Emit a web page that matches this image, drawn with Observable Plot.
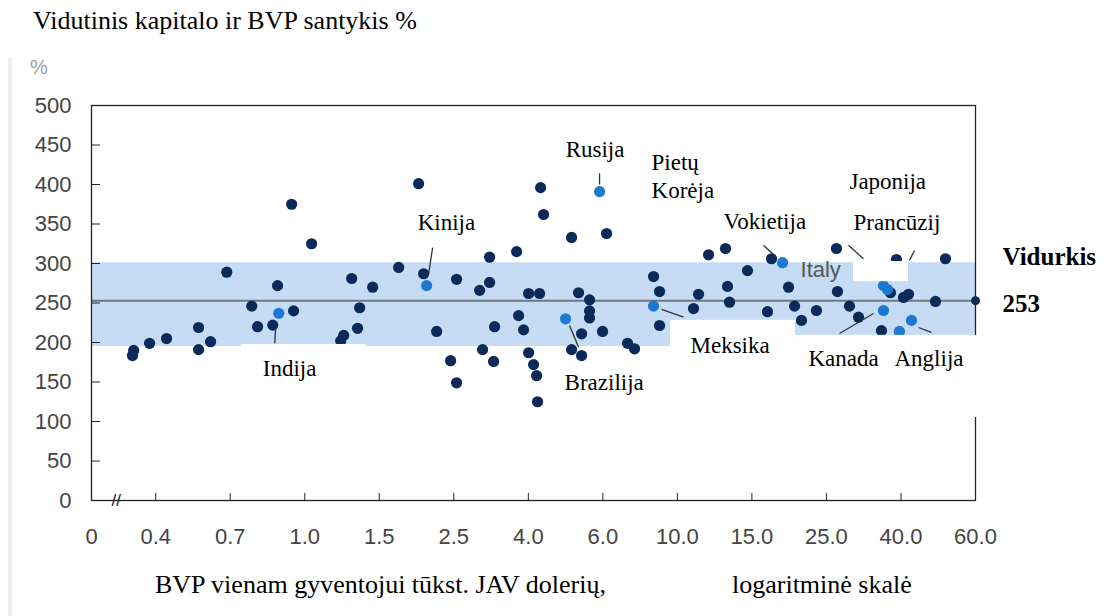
<!DOCTYPE html>
<html><head><meta charset="utf-8">
<script src="https://cdn.jsdelivr.net/npm/d3@7"></script>
<script src="https://cdn.jsdelivr.net/npm/@observablehq/plot@0.6"></script>
<style>
body{margin:0;background:#fff;width:1107px;height:616px;overflow:hidden;position:relative;font-family:"Liberation Serif","Times New Roman",serif}
#title{position:absolute;left:33px;top:8px;font-size:26px;line-height:26px;white-space:nowrap;color:#000}
#pct{position:absolute;left:30px;top:57px;font-family:"Liberation Sans",Arial,sans-serif;font-size:20px;line-height:20px;color:#9a9a9a}
#stripe{position:absolute;left:8px;top:58px;width:4px;height:558px;background:#efefef}
#chart{position:absolute;left:0;top:45px}
.cap{position:absolute;top:572px;font-size:26px;line-height:26px;white-space:nowrap;color:#000}
</style></head><body>
<div id="stripe"></div>
<div id="title">Vidutinis kapitalo ir BVP santykis %</div>
<div id="pct">%</div>
<div id="chart"></div>
<div class="cap" style="left:155px">BVP vienam gyventojui tūkst. JAV dolerių,</div>
<div class="cap" style="left:732px">logaritminė skalė</div>
<script>
// ---- axis definitions ----
const tickValues = [0.4, 0.7, 1, 1.5, 2.5, 4, 6, 10, 15, 25, 40, 60];
const tickLabels = ["0.4", "0.7", "1.0", "1.5", "2.5", "4.0", "6.0", "10.0", "15.0", "25.0", "40.0", "60.0"];
const axisStart = 0.247;          // GDP at the broken axis origin, labelled "0"
const axisStartLabel = "0";
const yTicks = [0, 50, 100, 150, 200, 250, 300, 350, 400, 450, 500];

// ---- series: other countries (GDP per capita, thousand USD; capital/GDP %) ----
const otherGdp = [0.336, 0.339, 0.382, 0.434, 0.552, 0.552, 0.604, 0.682, 0.776, 0.798, 0.858, 0.878, 0.948, 0.939,
  1.038, 1.216, 1.236, 1.291, 1.333, 1.348, 1.447, 1.713, 1.964, 2.033, 2.222, 2.446, 2.544, 2.544, 2.942, 3.133,
  2.998, 3.133, 3.233, 3.213, 3.715, 3.762, 3.882, 4.006, 4.006, 4.116, 4.184, 4.206, 4.252, 4.276, 4.346,
  5.061, 5.061, 5.257, 5.344, 5.344, 5.581, 5.581, 5.581, 5.99, 6.154, 7.106, 7.456, 8.492, 8.849, 8.849,
  10.918, 11.22, 11.847, 12.994, 13.136, 13.279, 14.646, 16.69, 17.16, 19.28, 20.09, 21.07, 23.35,
  26.63, 26.8, 28.91, 30.6, 35.37, 37.44, 38.88, 40.55, 41.67, 48.26, 50.96];
const otherRatio = [183.5, 190, 199, 205, 219, 191, 201, 289, 246, 220, 222, 272, 240, 375,
  325, 202, 209, 281, 218, 244, 270, 295, 401, 287, 214, 177, 280, 149, 266, 276,
  191, 308, 220, 176, 315, 234, 216, 262, 187, 172, 158, 125, 262, 396, 362,
  333, 191, 263, 211, 183.5, 254, 240, 231, 214, 338, 199, 192, 283.5, 264.5, 221.5,
  243, 261, 311, 319, 271, 251, 291, 239, 306, 270, 246, 228, 240.5,
  319, 264.5, 246, 232, 215, 263, 305, 257, 261, 252, 306];

// ---- series: highlighted countries ----
const hlGdp = [0.883, 2.075, 4.898, 5.893, 8.492, 18.5, 35.82, 36.74, 35.82, 39.62, 42.35];
const hlRatio = [237, 272, 230, 391, 246, 301, 272, 267, 240.5, 214, 228];

// ---- average band ----
const bandLow = 195, bandHigh = 301, average = 253;

// ---- annotations ----
const labelNames = ["Rusija", "Kinija", "Pietų", "Korėja", "Vokietija", "Japonija", "Prancūzij", "Meksika", "Kanada", "Anglija", "Indija", "Brazilija"];
const labelGdp   = [4.9, 1.951, 8.377, 8.377, 12.85, 28.9, 29.65, 10.74, 22.1, 38.4, 0.818, 4.872];
const labelRatio = [435, 343, 418, 383.5, 344, 394, 342, 187, 170, 170, 157, 140.5];
const leaderFrom = [[5.893, 414], [2.162, 320], [0.870, 218], [5.006, 221.5], [8.971, 242], [16.24, 323], [28.73, 323], [43.05, 316.5], [27.14, 211.4], [44.0, 219]];
const leaderTo   = [[5.893, 400], [2.104, 287], [0.866, 199], [5.257, 194], [10.34, 232], [17.52, 310], [31.58, 306], [41.9, 304], [33.63, 236.7], [47.22, 212.7]];
const italyLabel = {name: "Italy", gdp: 20.93, ratio: 282.3};
// white label boxes of the original figure
const maskX1 = [0.739, 9.54, 20.2, 29.65];
const maskX2 = [1.40, 20.2, 68.7, 41.67];
const maskY1 = [101, 101, 105, 277];
const maskY2 = [197.5, 228, 209, 302.5];

// piecewise-logarithmic position between the labelled ticks
function pos(g) {
  const n = tickValues.length;
  let i = 0;
  if (g >= tickValues[n - 1]) i = n - 2;
  else if (g > tickValues[0]) { while (g > tickValues[i + 1]) i++; }
  const a = tickValues[i], b = tickValues[i + 1];
  return i + 1 + Math.log(g / a) / Math.log(b / a);
}

const others = otherGdp.map((g, i) => ({gdp: g, ratio: otherRatio[i]}));
const highlights = hlGdp.map((g, i) => ({gdp: g, ratio: hlRatio[i]}));
const labels = labelNames.map((n, i) => ({name: n, gdp: labelGdp[i], ratio: labelRatio[i]}));
const leaders = leaderFrom.map((f, i) => ({x1: f[0], y1: f[1], x2: leaderTo[i][0], y2: leaderTo[i][1]}));
const masks = maskX1.map((x, i) => ({x1: x, x2: maskX2[i], y1: maskY1[i], y2: maskY2[i]}));

const xTickPos = [pos(axisStart), ...tickValues.map(pos)];
const xTickText = [axisStartLabel, ...tickLabels];
const xFmt = new Map(xTickPos.map((p, i) => [p.toFixed(6), xTickText[i]]));

const dark = "#0b2a5a", light = "#1d78d2";

const chart = Plot.plot({
  width: 1107, height: 530,
  marginTop: 60, marginBottom: 75, marginLeft: 91, marginRight: 132,
  x: {type: "linear", domain: [pos(axisStart), pos(tickValues[tickValues.length - 1])], axis: null},
  y: {domain: [0, 500], axis: null},
  style: {fontFamily: "'Liberation Sans', Arial, sans-serif", background: "transparent", overflow: "visible"},
  marks: [
    Plot.rect([{lo: bandLow, hi: bandHigh}], {
      x1: () => pos(axisStart), x2: () => pos(tickValues[tickValues.length - 1]),
      y1: "lo", y2: "hi", fill: "#c6dcf5"
    }),
    Plot.ruleY([average], {stroke: "#6f7780", strokeWidth: 2}),
    Plot.frame({stroke: "#222", strokeWidth: 1.3}),
    Plot.dot(others, {x: d => pos(d.gdp), y: "ratio", r: 5.6, fill: dark}),
    Plot.dot(highlights, {x: d => pos(d.gdp), y: "ratio", r: 5.6, fill: light}),
    Plot.dot([average], {x: () => pos(tickValues[tickValues.length - 1]), y: d => d, r: 4.5, fill: dark}),
    Plot.rect(masks, {x1: d => pos(d.x1), x2: d => pos(d.x2), y1: "y1", y2: "y2", fill: "#fff"}),
    Plot.axisX(xTickPos, {anchor: "bottom", tickSize: -7, tickPadding: 35, fontSize: 22, fill: "#444", stroke: "#222",
      tickFormat: d => xFmt.get(d.toFixed(6)) ?? "", label: null}),
    Plot.axisY(yTicks, {anchor: "left", tickSize: -9, tickPadding: 29, fontSize: 22, fill: "#444", stroke: "#222", label: null}),
    Plot.text(["//"], {frameAnchor: "bottom-left", dx: 20, fontSize: 17, lineAnchor: "middle", fill: "#222"}),
    Plot.link(leaders, {x1: d => pos(d.x1), y1: "y1", x2: d => pos(d.x2), y2: "y2", stroke: "#333", strokeWidth: 1.3}),
    Plot.text(labels, {x: d => pos(d.gdp), y: "ratio", text: "name", textAnchor: "start", lineAnchor: "bottom",
      fontSize: 23, fontFamily: "'Liberation Serif', 'Times New Roman', serif", fill: "#000"}),
    Plot.text([italyLabel], {x: d => pos(d.gdp), y: "ratio", text: "name", textAnchor: "start", lineAnchor: "bottom",
      fontSize: 22, fill: "#555"}),
    Plot.text(["Vidurkis", String(average)], {frameAnchor: "right", y: [297.5, 238], text: d => d, dx: 27,
      textAnchor: "start", lineAnchor: "bottom", fontSize: 25, fontWeight: "bold",
      fontFamily: "'Liberation Serif', 'Times New Roman', serif", fill: "#000"})
  ]
});
document.getElementById("chart").appendChild(chart);
</script>
</body></html>
